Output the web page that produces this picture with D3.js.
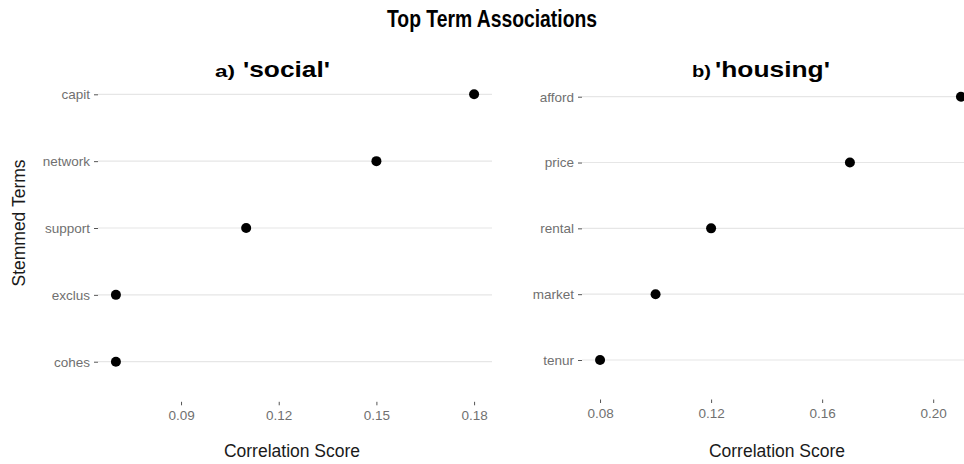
<!DOCTYPE html>
<html>
<head>
<meta charset="utf-8">
<script src="https://cdn.jsdelivr.net/npm/d3@7"></script>
<style>
  html, body { margin: 0; padding: 0; background: #fff; }
  svg { display: block; }
  text { font-family: "Liberation Sans", Arial, sans-serif; }
</style>
</head>
<body>
<svg id="chart" width="964" height="464"></svg>
<script>
// Top associated (stemmed) terms and their correlation scores
const socialTerms = ["capit", "network", "support", "exclus", "cohes"];
const socialScores = [0.18, 0.15, 0.11, 0.07, 0.07];
const housingTerms = ["afford", "price", "rental", "market", "tenur"];
const housingScores = [0.21, 0.17, 0.12, 0.10, 0.08];
const socialTicks = [0.09, 0.12, 0.15, 0.18];
const housingTicks = [0.08, 0.12, 0.16, 0.20];

const svg = d3.select("#chart");

// Overall title
svg.append("text")
  .attr("x", 387).attr("y", 27)
  .attr("font-size", 23.5).attr("font-weight", "bold").attr("fill", "#000")
  .attr("textLength", 210).attr("lengthAdjust", "spacingAndGlyphs")
  .text("Top Term Associations");

function panel(cfg) {
  const data = cfg.terms.map((t, i) => ({ term: t, score: cfg.scores[i] }));
  const [lo, hi] = d3.extent(cfg.scores);
  const pad = (hi - lo) * 0.05;

  const x = d3.scaleLinear().domain([lo - pad, hi + pad]).range([cfg.left, cfg.right]);
  const y = d3.scalePoint().domain(cfg.terms).range([cfg.top, cfg.bottom]).padding(0.6);

  const g = svg.append("g");

  // Panel subtitle: small letter + quoted keyword
  g.append("text")
    .attr("x", cfg.subX).attr("y", 77)
    .attr("font-size", 17).attr("font-weight", "bold").attr("fill", "#000")
    .attr("textLength", cfg.letterW).attr("lengthAdjust", "spacingAndGlyphs")
    .text(cfg.letter);
  g.append("text")
    .attr("x", cfg.wordX).attr("y", 77)
    .attr("font-size", 22).attr("font-weight", "bold").attr("fill", "#000")
    .attr("textLength", cfg.wordW).attr("lengthAdjust", "spacingAndGlyphs")
    .text(cfg.word);

  // Horizontal gridlines, one per term
  g.append("g").selectAll("line")
    .data(cfg.terms)
    .join("line")
    .attr("x1", cfg.left).attr("x2", cfg.right)
    .attr("y1", d => y(d)).attr("y2", d => y(d))
    .attr("stroke", "#e6e6e6").attr("stroke-width", 1.2);

  // Y axis (terms)
  const yAxis = g.append("g")
    .attr("transform", `translate(${cfg.left},0)`)
    .call(d3.axisLeft(y).tickSize(4).tickPadding(4));
  yAxis.select(".domain").remove();
  yAxis.selectAll(".tick line").attr("stroke", "#555").attr("stroke-width", 1);
  yAxis.selectAll(".tick text")
    .attr("font-size", 13.5).attr("fill", "#707070")
    .attr("font-family", "'Liberation Sans', Arial, sans-serif");

  // X axis (scores)
  const xAxis = g.append("g")
    .attr("transform", `translate(0,${cfg.bottom})`)
    .call(d3.axisBottom(x).tickValues(cfg.ticks).tickFormat(d3.format(".2f")).tickSize(3.5).tickPadding(5.5));
  xAxis.select(".domain").remove();
  xAxis.selectAll(".tick line").attr("stroke", "#555").attr("stroke-width", 1);
  xAxis.selectAll(".tick text")
    .attr("font-size", 13.5).attr("fill", "#707070")
    .attr("font-family", "'Liberation Sans', Arial, sans-serif");

  // Axis title
  g.append("text")
    .attr("x", cfg.xTitleX).attr("y", 457)
    .attr("text-anchor", "middle")
    .attr("font-size", 17.5).attr("fill", "#1a1a1a")
    .text("Correlation Score");

  // Points
  g.append("g").selectAll("circle")
    .data(data)
    .join("circle")
    .attr("cx", d => x(d.score))
    .attr("cy", d => y(d.term))
    .attr("r", 5)
    .attr("fill", "#000");
}

panel({
  terms: socialTerms, scores: socialScores, ticks: socialTicks,
  left: 98, right: 492, top: 54.2, bottom: 401.8,
  letter: "a)", word: "'social'", subX: 215, letterW: 20, wordX: 243, wordW: 87,
  xTitleX: 292
});

panel({
  terms: housingTerms, scores: housingScores, ticks: housingTicks,
  left: 582, right: 979, top: 57.2, bottom: 399.5,
  letter: "b)", word: "'housing'", subX: 692, letterW: 19, wordX: 715, wordW: 115,
  xTitleX: 777
});

// Shared y-axis title
svg.append("text")
  .attr("transform", "translate(25,223) rotate(-90)")
  .attr("text-anchor", "middle")
  .attr("font-size", 17.5).attr("fill", "#1a1a1a")
  .text("Stemmed Terms");
</script>
</body>
</html>
